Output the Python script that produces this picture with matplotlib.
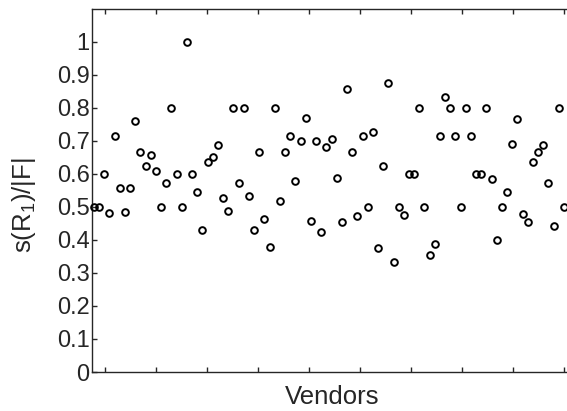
import numpy as np
import matplotlib
matplotlib.use("Agg")
import matplotlib.pyplot as plt

plt.rcParams['font.family'] = ['Liberation Sans', 'DejaVu Sans']
plt.rcParams['mathtext.fontset'] = 'custom'
plt.rcParams['mathtext.rm'] = 'Liberation Sans'
plt.rcParams['mathtext.it'] = 'Liberation Sans:italic'

# s(R1)/|F| per vendor
ratio = [
    0.5, 0.5, 0.6, 0.48, 0.714, 0.556, 0.485, 0.556, 0.76, 0.667,
    0.625, 0.657, 0.61, 0.5, 0.571, 0.8, 0.6, 0.5, 1.0, 0.6,
    0.545, 0.429, 0.635, 0.65, 0.687, 0.528, 0.486, 0.8, 0.571, 0.8,
    0.534, 0.429, 0.667, 0.464, 0.379, 0.8, 0.519, 0.667, 0.714, 0.579,
    0.7, 0.769, 0.458, 0.7, 0.423, 0.682, 0.706, 0.587, 0.455, 0.857,
    0.667, 0.472, 0.714, 0.5, 0.726, 0.375, 0.625, 0.875, 0.333, 0.5,
    0.474, 0.6, 0.6, 0.8, 0.5, 0.355, 0.389, 0.714, 0.833, 0.8,
    0.714, 0.5, 0.8, 0.714, 0.6, 0.6, 0.8, 0.583, 0.4, 0.5,
    0.545, 0.691, 0.765, 0.478, 0.455, 0.635, 0.667, 0.687, 0.571, 0.443,
    0.8, 0.5,
]
vendors = np.arange(1, len(ratio) + 1)
yticks = [0, 0.1, 0.2, 0.3, 0.4, 0.5, 0.6, 0.7, 0.8, 0.9, 1]
ytick_labels = ['0', '0.1', '0.2', '0.3', '0.4', '0.5', '0.6', '0.7', '0.8', '0.9', '1']

W, H = 567, 411
fig = plt.figure(figsize=(W / 100, H / 100), dpi=100)
ax = fig.add_axes([92.3 / W, (H - 372) / H, (572.7 - 92.3) / W, (372 - 8.7) / H])

axcol = '#262626'
ax.plot(vendors, ratio, linestyle='none', marker='o', markersize=4.8,
        markerfacecolor='none', markeredgecolor='black', markeredgewidth=1.4,
        clip_on=False, zorder=3)

ax.set_xlim(0.67, 93.7)
ax.set_ylim(0, 1.1)
ax.set_xticks(np.linspace(3.11, 92.09, 10))
ax.set_xticklabels([])
ax.set_yticks(yticks)
ax.set_yticklabels(ytick_labels)

for s in ax.spines.values():
    s.set_color(axcol)
    s.set_linewidth(1.0)
ax.tick_params(axis='both', direction='in', length=3.6, width=1.0, color=axcol,
               labelcolor=axcol, labelsize=17, top=True, right=True, pad=2)

ax.set_xlabel('Vendors', fontsize=18.5, color=axcol)
ax.xaxis.set_label_coords(0.5, -0.035)
ax.set_ylabel(r'$\mathregular{s(R_1)/|F|}$', fontsize=18.5, color=axcol)
ax.yaxis.set_label_coords(-0.113, 0.46)

fig.savefig('out.png', dpi=100)
